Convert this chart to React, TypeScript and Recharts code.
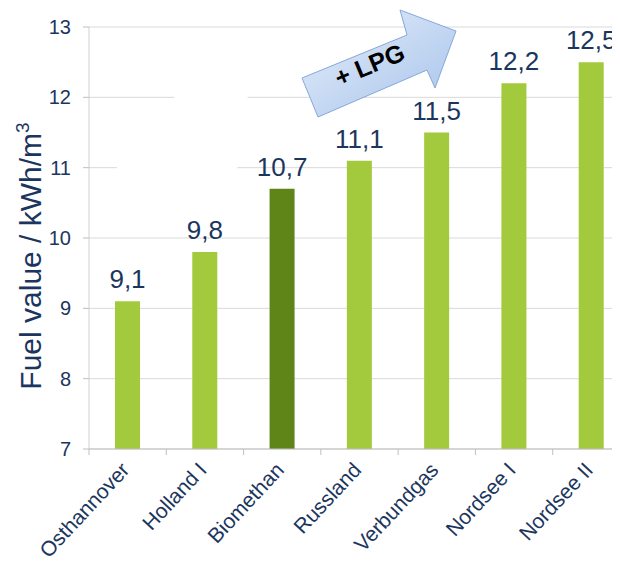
import { Bar, BarChart, CartesianGrid, Cell, LabelList, XAxis, YAxis } from "recharts";

const categories = ["Osthannover", "Holland I", "Biomethan", "Russland", "Verbundgas", "Nordsee I", "Nordsee II"];
const values = [9.1, 9.8, 10.7, 11.1, 11.5, 12.2, 12.5];
const highlighted = ["Biomethan"];
const yTicks = [7, 8, 9, 10, 11, 12, 13];

const CHART_W = 640;
const CHART_H = 566;
const Y_AXIS_W = 89;
const MARGIN = { top: 27, right: 10, bottom: 7, left: 0 };
const BAND = (CHART_W - MARGIN.right - MARGIN.left - Y_AXIS_W) / categories.length;

const NAVY = "#1b365e";
const FONT = "'Liberation Sans', Arial, sans-serif";

const data = categories.map((name, i) => ({ name, value: values[i] }));

function fmt(v: number) {
  return v.toFixed(1).replace(".", ",");
}

function XTick(props: any) {
  const { x, y, payload } = props;
  return (
    <g>
      <line x1={x - BAND / 2} x2={x - BAND / 2} y1={y} y2={y + 6} stroke="#bfbfbf" />
      <text
        transform={`translate(${x + 3},${y + 22}) rotate(-47)`}
        textAnchor="end"
        fill={NAVY}
        fontSize={21}
        fontFamily={FONT}
      >
        {payload.value}
      </text>
    </g>
  );
}

export default function App() {
  return (
    <div
      style={{
        position: "relative",
        width: 620,
        height: 566,
        overflow: "hidden",
        margin: -8,
        background: "#fff",
      }}
    >
      <BarChart width={CHART_W} height={CHART_H} data={data} margin={MARGIN} barSize={25}>
        <CartesianGrid vertical={false} stroke="#d9d9d9" />
        <XAxis
          dataKey="name"
          interval={0}
          height={110}
          tickSize={0}
          tickMargin={0}
          tick={<XTick />}
          axisLine={{ stroke: "#bfbfbf" }}
        />
        <YAxis
          width={Y_AXIS_W}
          domain={[7, 13]}
          ticks={yTicks}
          allowDataOverflow
          tickSize={6}
          tickMargin={12}
          axisLine={{ stroke: "#d0d0d0" }}
          tickLine={{ stroke: "#bfbfbf" }}
          tick={{ fill: NAVY, fontSize: 20, fontFamily: FONT }}
        />
        <Bar dataKey="value" isAnimationActive={false}>
          {data.map((d) => (
            <Cell key={d.name} fill={highlighted.includes(d.name) ? "#5f8518" : "#a3c93d"} />
          ))}
          <LabelList
            dataKey="value"
            position="top"
            offset={13}
            formatter={(v: any) => fmt(Number(v))}
            fill={NAVY}
            fontSize={26}
            fontFamily={FONT}
          />
        </Bar>
      </BarChart>

      {/* overlay: axis title, erased patch, LPG arrow */}
      <svg
        width={620}
        height={566}
        style={{ position: "absolute", left: 0, top: 0, pointerEvents: "none" }}
      >
        <defs>
          <linearGradient id="arrowFill" x1="0" y1="0" x2="1" y2="1">
            <stop offset="0%" stopColor="#e6eefa" />
            <stop offset="100%" stopColor="#a6c3eb" />
          </linearGradient>
        </defs>
        <polygon points="182,88 249,88 236,176 192,212 138,203 116,166" fill="#fff" />
        <text
          transform="translate(41,256) rotate(-90)"
          textAnchor="middle"
          fill={NAVY}
          fontSize={30}
          fontFamily={FONT}
        >
          Fuel value / kWh/m
          <tspan dy={-12} fontSize={19}>
            3
          </tspan>
        </text>
        <polygon
          points="302,78 407,35 400,10 456,31 435,88 427,70 318,117"
          fill="url(#arrowFill)"
          stroke="#86a8d8"
          strokeWidth={1}
        />
        <text
          transform="translate(373,73) rotate(-22.5)"
          textAnchor="middle"
          fill="#000"
          fontSize={25}
          fontWeight="bold"
          fontFamily={FONT}
        >
          + LPG
        </text>
      </svg>
    </div>
  );
}
